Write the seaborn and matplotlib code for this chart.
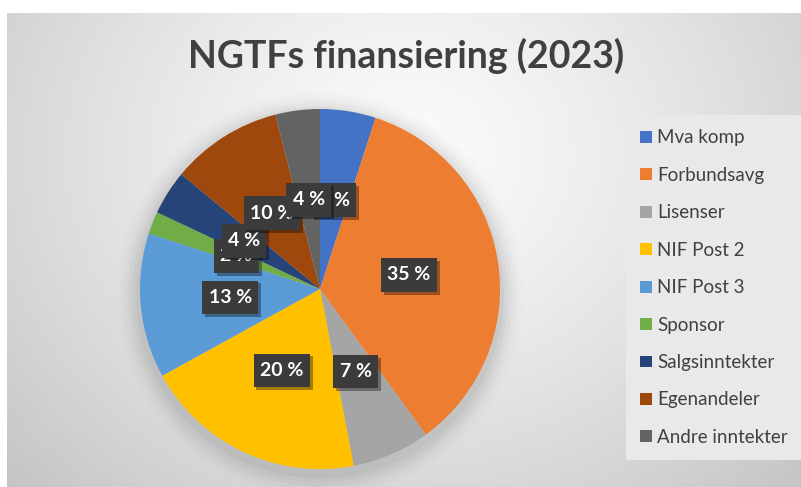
import numpy as np
import matplotlib
matplotlib.use("Agg")
import matplotlib.pyplot as plt
import matplotlib.patheffects as pe
from matplotlib.patches import Circle
from matplotlib.path import Path
import seaborn as sns

# ---- data ----
categories = ["Mva komp", "Forbundsavg", "Lisenser", "NIF Post 2", "NIF Post 3",
              "Sponsor", "Salgsinntekter", "Egenandeler", "Andre inntekter"]
values = [5, 35, 7, 20, 13, 2, 4, 10, 4]
colors = ["#4472C4", "#ED7D31", "#A5A5A5", "#FFC000", "#5B9BD5",
          "#70AD47", "#264478", "#9E480E", "#636363"]
title = "NGTFs finansiering (2023)"

sns.set_theme(style="white")
plt.rcParams["font.family"] = ["Lato", "DejaVu Sans"]

W, H = 801, 487
fig = plt.figure(figsize=(W / 100, H / 100), dpi=100, facecolor="white")

# ---- background gradient (chart area) ----
x0, y0 = 7, 13
bg = fig.add_axes([x0 / W, 0, (W - x0) / W, (H - y0) / H])
bw, bh = W - x0, H - y0
yy, xx = np.mgrid[0:bh, 0:bw]
cx, cy = 400, 140
d = np.sqrt(((xx - cx) / 1.15) ** 2 + (yy - cy) ** 2)
t = np.clip(d / 480, 0, 1) ** 1.3
val = 0.985 - t * (0.985 - 0.77)
img = np.dstack([val, val, val])
bg.imshow(img, aspect="auto", extent=[0, bw, bh, 0])
bg.set_xlim(0, bw)
bg.set_ylim(bh, 0)
bg.axis("off")

# ---- pie ----
pcx, pcy, r = 320, 289, 180
ax = fig.add_axes([(pcx - r) / W, (H - pcy - r) / H, 2 * r / W, 2 * r / H])
ax.set_facecolor("none")

# soft shadow under pie
for i, a in enumerate(np.linspace(0.035, 0.008, 6)):
    ax.add_patch(Circle((0.0, -0.03), 1.0 + 0.022 * (i + 1), color="black",
                        alpha=a, lw=0, zorder=0, clip_on=False))


def label_box(x0, y0, width, height, mutation_size):
    px = 0.33 * mutation_size
    py = 0.43 * mutation_size
    xa, xb = x0 - px, x0 + width + px
    ya, yb = y0 - py, y0 + height + py
    return Path([(xa, ya), (xb, ya), (xb, yb), (xa, yb), (xa, ya)], closed=True)


wedges, texts, autotexts = ax.pie(
    values, colors=colors, startangle=90, counterclock=False,
    autopct=lambda p: f"{p:.0f} %", pctdistance=0.5,
    wedgeprops=dict(linewidth=0),
    textprops=dict(color="white", fontsize=14, fontweight="bold"),
)
for at in autotexts:
    at.set_bbox(dict(boxstyle=label_box, facecolor="#3b3b3b", edgecolor="none"))
    at.get_bbox_patch().set_path_effects(
        [pe.withSimplePatchShadow(offset=(2, -2), shadow_rgbFace="black", alpha=0.35)])
ax.set_xlim(-1, 1)
ax.set_ylim(-1, 1)
ax.axis("off")

# ---- title ----
fig.text(406 / W, 1 - 56 / H, title, ha="center", va="center",
         fontsize=27, fontweight="bold", color="#404040")

# ---- legend ----
leg = fig.legend(
    wedges, categories, loc="upper left",
    bbox_to_anchor=(632 / W, 1 - 121 / H),
    frameon=True, fontsize=13.5, labelcolor="#404040",
    handlelength=0.6, handleheight=0.6, handletextpad=0.3,
    labelspacing=1.09, borderpad=0.45, borderaxespad=0,
)
frame = leg.get_frame()
frame.set_facecolor("#e9e9e9")
frame.set_edgecolor("none")
frame.set_alpha(1)
frame.set_boxstyle("square")

fig.savefig("out.png", dpi=100, facecolor="white")
